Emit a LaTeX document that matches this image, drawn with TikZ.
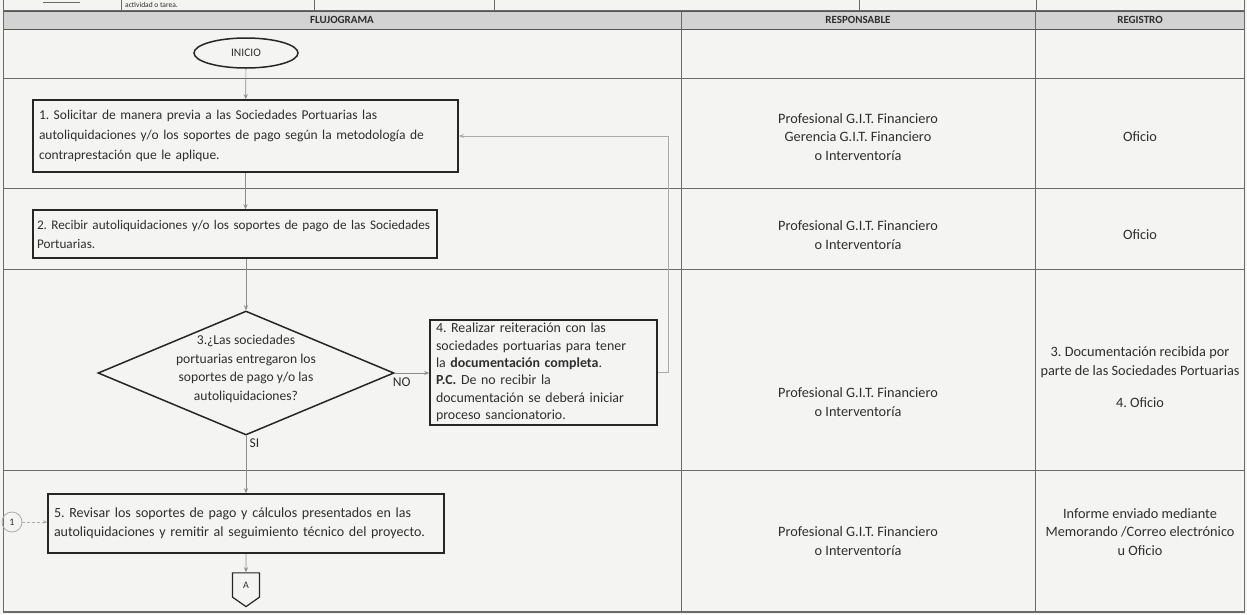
\documentclass[tikz,border=0pt]{standalone}
\usepackage{fontspec}
\setmainfont{Carlito}
\usetikzlibrary{shapes.geometric,shapes.symbols,arrows.meta}
\definecolor{bg}{HTML}{F4F4F3}
\definecolor{txt}{HTML}{2E2E2E}
\definecolor{grid}{HTML}{6A6A6A}
\definecolor{hdr}{HTML}{D3D3D3}
\definecolor{conn}{HTML}{8C8C8C}
\definecolor{lightconn}{HTML}{ABABAB}
\frenchspacing
\begin{document}
\begin{tikzpicture}[x=1pt,y=-1pt,
  every node/.style={text=txt},
  body/.style={font=\fontsize{14.3}{18.5}\selectfont, align=center},
  hdrtext/.style={font=\bfseries\fontsize{11}{12}\selectfont},
  stepbox/.style={draw=black!85, line width=1.5pt, align=left, inner xsep=6pt,
     font=\fontsize{13.5}{20}\selectfont},
  startend/.style={ellipse, draw=black!85, line width=1.5pt, inner sep=0pt,
     font=\fontsize{11.5}{13}\selectfont},
  decision/.style={diamond, draw=black!85, line width=1.5pt, inner sep=0pt},
  flow/.style={draw=conn, line width=0.7pt, -{Stealth[length=5pt,width=4pt]}},
  gridline/.style={draw=grid, line width=0.8pt},
  lbl/.style={font=\fontsize{13.5}{15}\selectfont}
]
\useasboundingbox (0,0) rectangle (1247,614);
\fill[bg] (0,0) rectangle (1247,614);

% partial previous row
\node[anchor=west, font=\fontsize{7.5}{8}\selectfont, inner sep=0pt] (prev) at (125,4.5) {actividad o tarea.};
\draw[gridline] (43,2) -- (80,2);
\foreach \xx in {3,121,314,494,859,1036,1244}{\draw[gridline] (\xx,0) -- (\xx,10);}

% header band
\fill[hdr] (3,11) rectangle (1244,29);
\draw[draw=grid!80!black, line width=2pt] (3,10.5) -- (1244,10.5);
\draw[draw=grid!80!black, line width=1.3pt] (3,29.5) -- (1244,29.5);
\node[hdrtext] (h1) at (342,19.5) {FLUJOGRAMA};
\node[hdrtext] (h2) at (858,19.5) {RESPONSABLE};
\node[hdrtext] (h3) at (1140,19.5) {REGISTRO};

% table grid
\draw[gridline] (3,10) rectangle (1244,612);
\draw[gridline] (681,10) -- (681,612);
\draw[gridline] (1035,10) -- (1035,612);
\foreach \yy in {78,188,269,470}{\draw[gridline] (3,\yy) -- (1244,\yy);}
\draw[draw=grid, line width=1.3pt] (3,612) -- (1244,612);

% flow nodes
\node[startend, minimum width=104, minimum height=30] (inicio) at (246,53) {INICIO};
\node[stepbox, minimum width=425, minimum height=72, text width=413] (b1) at (245.5,136)
 {\mbox{1. Solicitar de manera previa a las Sociedades Portuarias las}\\\mbox{autoliquidaciones y/o los soportes de pago según la metodología de}\\\mbox{contraprestación que le aplique.}};
\node[stepbox, minimum width=404, minimum height=48, text width=396, inner xsep=4pt,
      font=\fontsize{13.2}{19}\selectfont] (b2) at (235,234)
 {\mbox{2. Recibir autoliquidaciones y/o los soportes de pago de las Sociedades}\\\mbox{Portuarias.}};
\node[decision, minimum width=296, minimum height=124] (d3) at (246,373) {};
\node[align=center, font=\fontsize{13.6}{18.6}\selectfont] (d3t) at (246,369)
 {3.¿Las sociedades\\portuarias entregaron los\\soportes de pago y/o las\\autoliquidaciones?};
\node[stepbox, minimum width=227, minimum height=105, text width=215, inner ysep=0pt,
      font=\fontsize{13.9}{17.4}\selectfont] (b4) at (543.5,372.5)
 {\mbox{4. Realizar reiteración con las}\\\mbox{sociedades portuarias para tener}\\\mbox{la \textbf{documentación completa}.}\\\mbox{\textbf{P.C.} De no recibir la}\\\mbox{documentación se deberá iniciar}\\\mbox{proceso sancionatorio.}};
\node[stepbox, minimum width=396, minimum height=59, text width=384, font=\fontsize{14}{18.5}\selectfont] (b5) at (246,523.5)
 {\mbox{5. Revisar los soportes de pago y cálculos presentados en las}\\\mbox{autoliquidaciones y remitir al seguimiento técnico del proyecto.}};
\node[circle, draw=lightconn, line width=0.8pt, minimum size=20, inner sep=0pt,
      font=\fontsize{10}{11}\selectfont] (c1) at (12,522) {1};
\node[signal, signal to=south, signal pointer angle=110, draw=black!85, line width=1.2pt,
      minimum width=27, minimum height=27, inner sep=1pt,
      font=\fontsize{10}{11}\selectfont] (offA) at (246,585) {A};

% connectors
\draw[flow] (inicio) -- (b1);
\draw[flow] (b1) -- (b2.north -| b1.south);
\draw[flow] (b2.south -| d3.north) -- (d3.north);
\draw[flow] (d3.south) -- node[pos=0.13, right, lbl, xshift=0pt] (si) {SI} (b5.north);
\draw[flow] (d3.east) -- node[pos=0.2, below, lbl, yshift=-1pt] (no) {NO} (b4.west |- d3.east);
\coordinate (fb) at (668,372.5);
\draw[draw=lightconn, line width=0.7pt, -{Stealth[length=5pt,width=4pt]}] (b4.east) -- (fb) |- (b1.east);
\draw[draw=lightconn, line width=0.7pt, densely dashed, -{Stealth[length=4pt,width=3.5pt]}] (c1) -- (b5.west |- c1);
\draw[flow] (b5) -- (offA);

% responsible column
\node[body] (r1) at (858,137) {Profesional G.I.T. Financiero\\Gerencia G.I.T. Financiero\\o Interventoría};
\node[body] (r2) at (858,235) {Profesional G.I.T. Financiero\\o Interventoría};
\node[body] (r3) at (858,402) {Profesional G.I.T. Financiero\\o Interventoría};
\node[body] (r4) at (858,541) {Profesional G.I.T. Financiero\\o Interventoría};

% registro column
\node[body] (g1) at (1140,137) {Oficio};
\node[body] (g2) at (1140,235) {Oficio};
\node[body] (g3) at (1140,362) {3. Documentación recibida por\\parte de las Sociedades Portuarias};
\node[body] (g3b) at (1140,403) {4. Oficio};
\node[body] (g4) at (1140,532) {Informe enviado mediante\\Memorando /Correo electrónico\\u Oficio};
\end{tikzpicture}
\end{document}
